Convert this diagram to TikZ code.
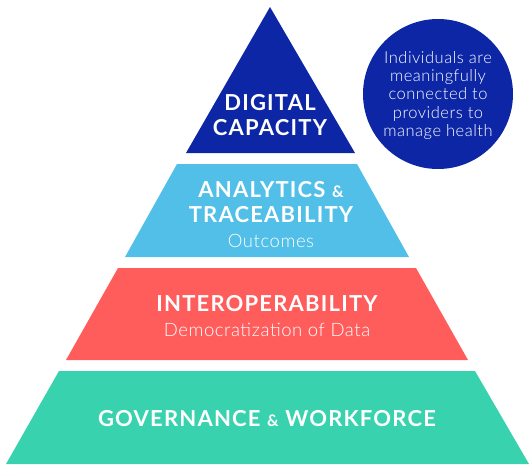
\documentclass[tikz,border=0pt]{standalone}
\usepackage{fontspec}
\setmainfont{Lato}[LetterSpace=5.5]
\newfontfamily\lightfont{Lato Light}[LetterSpace=3]
\definecolor{dblue}{RGB}{12,38,166}
\definecolor{lblue}{RGB}{82,191,232}
\definecolor{lred}{RGB}{255,92,92}
\definecolor{lgreen}{RGB}{56,211,174}
\begin{document}
\begin{tikzpicture}[x=1pt,y=-1pt,
  head/.style={text=white,font=\bfseries\fontsize{22}{25}\selectfont,anchor=base,inner sep=0pt},
  sub/.style={text=white,font=\lightfont\fontsize{18.5}{20}\selectfont,anchor=base,inner sep=0pt}]
\useasboundingbox (0,0) rectangle (530,464);
% layers
\fill[dblue] (270,7) -- (355,153) -- (186,153) -- cycle;
\fill[lblue] (177,164) -- (357,164) -- (409,257) -- (125,257) -- cycle;
\fill[lred] (118,268) -- (416,268) -- (468,360) -- (66,360) -- cycle;
\fill[lgreen] (59,371) -- (475,371) -- (529,464) -- (6,464) -- cycle;
% circle
\node[circle,fill=dblue,minimum size=150pt,inner sep=0pt] (goal) at (438,94) {};
\node[sub,font=\lightfont\fontsize{16.5}{18.3}\selectfont,align=center,anchor=north] (goaltext) at (438,51)
  {Individuals are\\meaningfully\\connected to\\providers to\\manage health};
% texts
\node[head] (dig1) at (270,110) {DIGITAL};
\node[head] (dig2) at (270,135) {CAPACITY};
\node[head] (ana1) at (271,197) {ANALYTICS {\fontsize{16}{20}\selectfont\&}};
\node[head] (ana2) at (271,222) {TRACEABILITY};
\node[sub] (ana3) at (271,247) {Outcomes};
\node[head] (int1) at (267,311) {INTEROPERABILITY};
\node[sub] (int2) at (267,336) {Democratization of Data};
\node[head] (gov1) at (267,426) {GOVERNANCE {\fontsize{16}{20}\selectfont\&} WORKFORCE};
\end{tikzpicture}
\end{document}
